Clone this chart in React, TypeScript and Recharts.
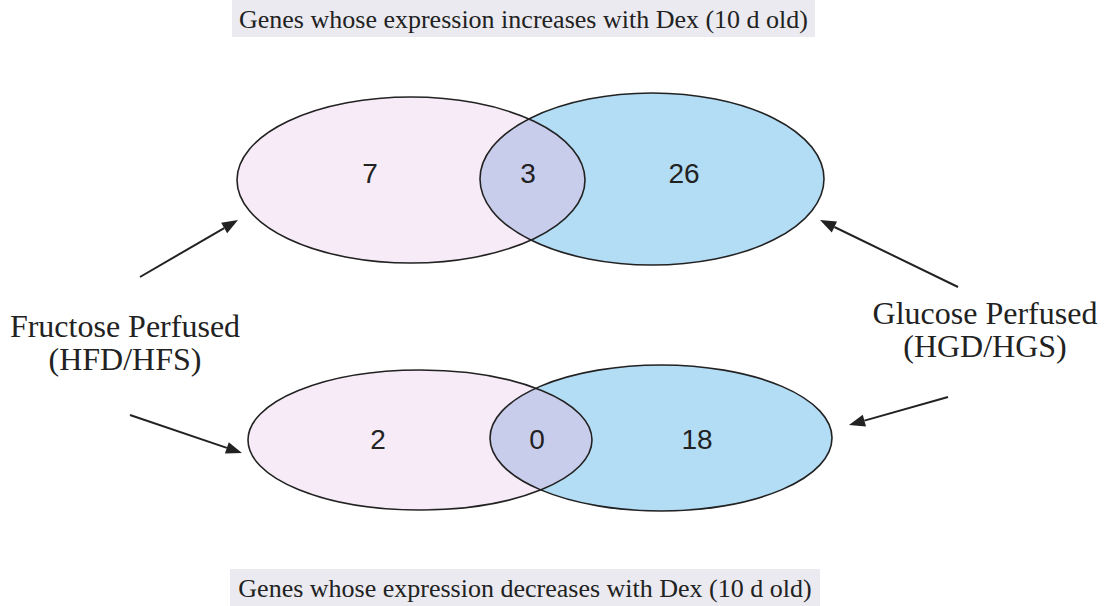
import React from 'react';
import { ComposedChart, XAxis, YAxis, Scatter, ReferenceArea, ReferenceLine } from 'recharts';

// chart content
const titles = [
  'Genes whose expression increases with Dex (10 d old)',
  'Genes whose expression decreases with Dex (10 d old)',
];
const setNames = ['Fructose Perfused', 'Glucose Perfused'];
const setCodes = ['(HFD/HFS)', '(HGD/HGS)'];
const regions = ['fructose only', 'both', 'glucose only'];
const increasedCounts = [7, 3, 26];
const decreasedCounts = [2, 0, 18];

const W = 1107;
const H = 606;
const SERIF = '"Liberation Serif", "Times New Roman", serif';
const SANS = '"Liberation Sans", Arial, sans-serif';

// layout (axis domains are mapped 1:1 onto pixels)
const rowLayout = [
  {
    left: { cx: 411, cy: 180, rx: 174, ry: 83 },
    right: { cx: 652, cy: 179, rx: 172, ry: 86 },
    countX: [370, 528, 684],
    countY: 173,
    band: { x1: 232, x2: 815, y1: 0, y2: 37 },
  },
  {
    left: { cx: 420, cy: 440, rx: 172, ry: 70 },
    right: { cx: 661, cy: 438, rx: 171, ry: 73 },
    countX: [378, 537, 697],
    countY: 439,
    band: { x1: 230, x2: 820, y1: 569, y2: 606 },
  },
];
const sideLayout = [
  { x: 125, y: 326 },
  { x: 985, y: 313 },
];
const arrowLayout = [
  [{ x: 140, y: 277 }, { x: 238, y: 220 }],
  [{ x: 130, y: 415 }, { x: 242, y: 453 }],
  [{ x: 958, y: 287 }, { x: 820, y: 220 }],
  [{ x: 948, y: 397 }, { x: 849, y: 425 }],
];

const PINK = '#f7ebf7';
const BLUE = '#b3ddf5';
const OVERLAP = '#c9cdec';
const INK = '#222';

const vennData = rowLayout.map((r, i) => ({ x: r.left.cx, y: r.left.cy, row: i }));
const countData = [increasedCounts, decreasedCounts].flatMap((counts, i) =>
  counts.map((v, j) => ({ x: rowLayout[i].countX[j], y: rowLayout[i].countY, value: v, region: regions[j] }))
);
const sideData = setNames.map((n, i) => ({ x: sideLayout[i].x, y: sideLayout[i].y, name: n, code: setCodes[i] }));

const VennShape = (props: any) => {
  const { cx, cy, payload } = props;
  const r = rowLayout[payload.row];
  const l = { ...r.left, cx, cy };
  const rt = { ...r.right, cx: cx + (r.right.cx - r.left.cx), cy: cy + (r.right.cy - r.left.cy) };
  const id = `venn-clip-${payload.row}`;
  return (
    <g>
      <defs>
        <clipPath id={id}>
          <ellipse cx={l.cx} cy={l.cy} rx={l.rx} ry={l.ry} />
        </clipPath>
      </defs>
      <ellipse cx={l.cx} cy={l.cy} rx={l.rx} ry={l.ry} fill={PINK} />
      <ellipse cx={rt.cx} cy={rt.cy} rx={rt.rx} ry={rt.ry} fill={BLUE} />
      <ellipse cx={rt.cx} cy={rt.cy} rx={rt.rx} ry={rt.ry} fill={OVERLAP} clipPath={`url(#${id})`} />
      <ellipse cx={l.cx} cy={l.cy} rx={l.rx} ry={l.ry} fill="none" stroke={INK} strokeWidth={1.6} />
      <ellipse cx={rt.cx} cy={rt.cy} rx={rt.rx} ry={rt.ry} fill="none" stroke={INK} strokeWidth={1.6} />
    </g>
  );
};

const CountShape = (props: any) => (
  <text x={props.cx} y={props.cy} textAnchor="middle" dominantBaseline="central"
    fontFamily={SANS} fontSize={28} fill={INK}>
    {props.payload.value}
  </text>
);

const SideShape = (props: any) => (
  <g fontFamily={SERIF} fontSize={32} fill={INK} textAnchor="middle">
    <text x={props.cx} y={props.cy} dominantBaseline="central">{props.payload.name}</text>
    <text x={props.cx} y={props.cy + 33} dominantBaseline="central">{props.payload.code}</text>
  </g>
);

const ArrowShape = (p: any) => {
  const { x1, y1, x2, y2 } = p;
  const a = Math.atan2(y2 - y1, x2 - x1);
  const len = 16;
  const half = 6;
  const bx = x2 - len * Math.cos(a);
  const by = y2 - len * Math.sin(a);
  const pts = `${x2},${y2} ${bx - half * Math.sin(a)},${by + half * Math.cos(a)} ${bx + half * Math.sin(a)},${by - half * Math.cos(a)}`;
  return (
    <g>
      <line x1={x1} y1={y1} x2={bx} y2={by} stroke={INK} strokeWidth={2} />
      <polygon points={pts} fill={INK} />
    </g>
  );
};

export default function App() {
  return (
    <div style={{ position: 'absolute', left: 0, top: 0, width: W, height: H, background: '#fff' }}>
      <ComposedChart width={W} height={H} margin={{ top: 0, right: 0, bottom: 0, left: 0 }}>
        <XAxis type="number" dataKey="x" domain={[0, W]} hide allowDataOverflow />
        <YAxis type="number" dataKey="y" domain={[0, H]} reversed hide allowDataOverflow />
        {rowLayout.map((r, i) => (
          <ReferenceArea key={`band-${i}`} x1={r.band.x1} x2={r.band.x2} y1={r.band.y1} y2={r.band.y2}
            fill="#eaeaf0" fillOpacity={1} stroke="none" ifOverflow="visible"
            label={{ value: titles[i], position: 'center', fill: INK, fontSize: 26, fontFamily: SERIF }} />
        ))}
        <Scatter data={vennData} shape={VennShape} isAnimationActive={false} />
        <Scatter data={countData} shape={CountShape} isAnimationActive={false} />
        <Scatter data={sideData} shape={SideShape} isAnimationActive={false} />
        {arrowLayout.map((seg, i) => (
          <ReferenceLine key={`arrow-${i}`} segment={seg} shape={ArrowShape} ifOverflow="visible" />
        ))}
      </ComposedChart>
    </div>
  );
}
